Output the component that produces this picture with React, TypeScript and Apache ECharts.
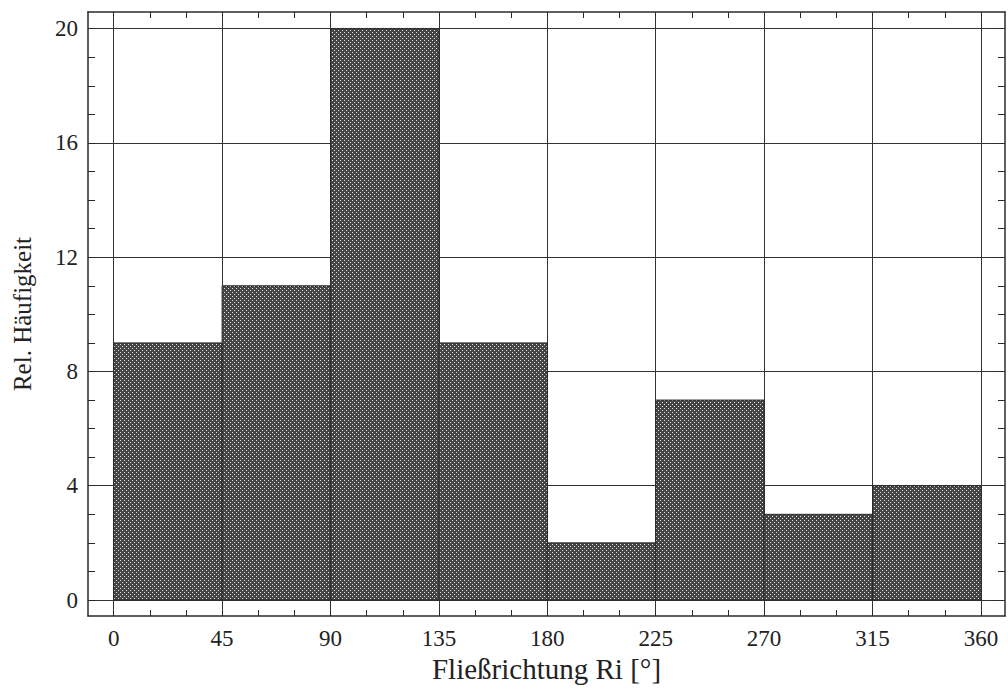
import React, { useEffect, useRef } from "react";
import * as echarts from "echarts";

const binStarts = [0, 45, 90, 135, 180, 225, 270, 315];
const binEnds = [45, 90, 135, 180, 225, 270, 315, 360];
const frequencies = [9, 11, 20, 9, 2, 7, 3, 4];
const xMajorTicks = [0, 45, 90, 135, 180, 225, 270, 315, 360];
const xMinorTicks = [0, 15, 30, 45, 60, 75, 90, 105, 120, 135, 150, 165, 180, 195, 210, 225, 240, 255, 270, 285, 300, 315, 330, 345, 360];
const yMajorTicks = [0, 4, 8, 12, 16, 20];
const yMinorTicks = [0, 1, 2, 3, 4, 5, 6, 7, 8, 9, 10, 11, 12, 13, 14, 15, 16, 17, 18, 19, 20];

const X_MIN = -10.67;
const X_MAX = 370.0;
const Y_MIN = -0.56;
const Y_MAX = 20.585;

const FONT = "'Liberation Serif', 'DejaVu Serif', serif";

function makePattern(): HTMLCanvasElement {
  const c = document.createElement("canvas");
  c.width = 4;
  c.height = 4;
  const ctx = c.getContext("2d")!;
  ctx.fillStyle = "#444444";
  ctx.fillRect(0, 0, 4, 4);
  ctx.fillStyle = "#e6e6e6";
  ctx.fillRect(0, 0, 1, 1);
  ctx.fillRect(2, 2, 1, 1);
  return c;
}

export default function App() {
  const ref = useRef<HTMLDivElement>(null);
  useEffect(() => {
    if (!ref.current) return;
    const chart = echarts.init(ref.current, undefined, { renderer: "svg" });
    const pattern = { image: makePattern(), repeat: "repeat" };
    const data = binStarts.map((s, i) => [s, binEnds[i], frequencies[i]]);
    const lineColor = "#2a2a2a";
    const baseX = { type: "value", min: X_MIN, max: X_MAX, gridIndex: 0 };
    const baseY = { type: "value", min: Y_MIN, max: Y_MAX, gridIndex: 0 };
    const option: any = {
      animation: false,
      backgroundColor: "#ffffff",
      grid: { left: 88, right: 3, top: 12, bottom: 82, containLabel: false },
      xAxis: [
        {
          ...baseX,
          position: "bottom",
          name: "Fließrichtung Ri [°]",
          nameLocation: "middle",
          nameGap: 35,
          nameTextStyle: { fontFamily: FONT, fontSize: 29, color: "#222" },
          axisLine: { show: false },
          axisTick: { show: false, customValues: xMajorTicks },
          axisLabel: {
            customValues: xMajorTicks,
            fontFamily: FONT,
            fontSize: 23,
            color: "#222",
            margin: 11,
          },
          splitLine: { show: true, lineStyle: { color: "#333", width: 1 } },
        },
        {
          ...baseX,
          position: "bottom",
          axisLine: { show: true, onZero: false, lineStyle: { color: lineColor, width: 1.5 } },
          axisTick: { show: true, inside: true, length: 6, customValues: xMinorTicks, lineStyle: { color: lineColor } },
          axisLabel: { show: false },
          splitLine: { show: false },
        },
        {
          ...baseX,
          position: "top",
          axisLine: { show: true, onZero: false, lineStyle: { color: lineColor, width: 1.5 } },
          axisTick: { show: true, inside: true, length: 6, customValues: xMinorTicks, lineStyle: { color: lineColor } },
          axisLabel: { show: false },
          splitLine: { show: false },
        },
      ],
      yAxis: [
        {
          ...baseY,
          position: "left",
          name: "Rel. Häufigkeit",
          nameLocation: "middle",
          nameGap: 53,
          nameRotate: 90,
          nameTextStyle: { fontFamily: FONT, fontSize: 25, color: "#222" },
          axisLine: { show: false },
          axisTick: { show: false, customValues: yMajorTicks },
          axisLabel: {
            customValues: yMajorTicks,
            fontFamily: FONT,
            fontSize: 23,
            color: "#222",
            margin: 10,
          },
          splitLine: { show: true, lineStyle: { color: "#333", width: 1 } },
        },
        {
          ...baseY,
          position: "left",
          axisLine: { show: true, onZero: false, lineStyle: { color: lineColor, width: 1.5 } },
          axisTick: { show: true, inside: true, length: 7, customValues: yMinorTicks, lineStyle: { color: lineColor } },
          axisLabel: { show: false },
          splitLine: { show: false },
        },
        {
          ...baseY,
          position: "right",
          axisLine: { show: true, onZero: false, lineStyle: { color: lineColor, width: 1.5 } },
          axisTick: { show: true, inside: true, length: 7, customValues: yMinorTicks, lineStyle: { color: lineColor } },
          axisLabel: { show: false },
          splitLine: { show: false },
        },
      ],
      series: [
        {
          type: "custom",
          xAxisIndex: 0,
          yAxisIndex: 0,
          data,
          encode: { x: [0, 1], y: 2 },
          renderItem: (params: any, api: any) => {
            const s = api.value(0);
            const e = api.value(1);
            const v = api.value(2);
            const p0 = api.coord([s, v]);
            const p1 = api.coord([e, 0]);
            return {
              type: "rect",
              shape: { x: p0[0], y: p0[1], width: p1[0] - p0[0], height: p1[1] - p0[1] },
              style: { fill: pattern, stroke: "#2a2a2a", lineWidth: 1 },
            };
          },
        },
      ],
    };
    chart.setOption(option);
    return () => chart.dispose();
  }, []);
  return (
    <div
      ref={ref}
      style={{ position: "fixed", left: 0, top: 0, width: 1008, height: 698, background: "#fff" }}
    />
  );
}
